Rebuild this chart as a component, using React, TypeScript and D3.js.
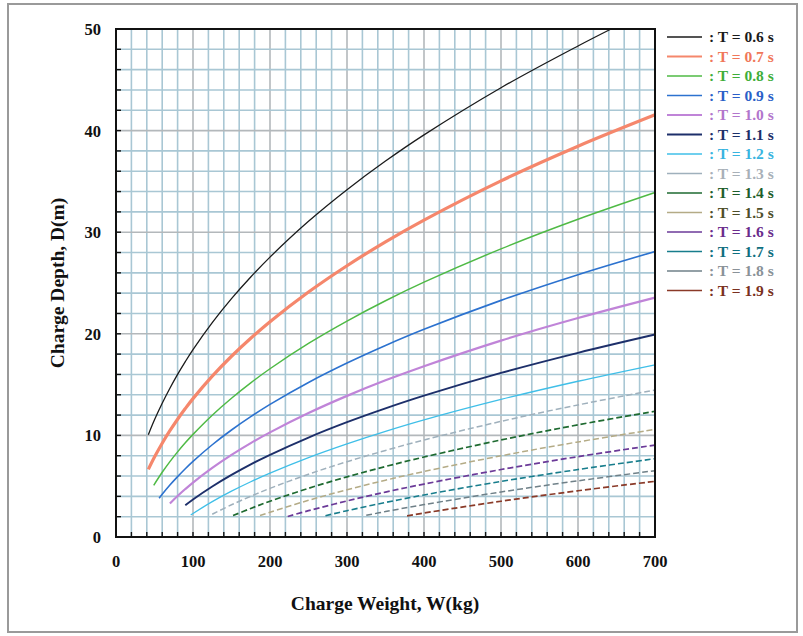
import React from "react";
import * as d3 from "d3";

// Charge depth D(m) for each bubble period T, as [W(kg), D(m)] pairs
const T06: [number, number][] = [[42, 10.07], [50, 11.53], [60, 13.16], [70, 14.64], [80, 16.0], [90, 17.26], [100, 18.44], [125, 21.1], [150, 23.46], [175, 25.59], [200, 27.55], [250, 31.07], [300, 34.18], [350, 37.0], [400, 39.58], [500, 44.22], [600, 48.33], [643, 50.0]];
const T07: [number, number][] = [[42, 6.66], [50, 7.87], [60, 9.23], [70, 10.46], [80, 11.59], [90, 12.64], [100, 13.62], [125, 15.83], [150, 17.79], [175, 19.56], [200, 21.19], [250, 24.11], [300, 26.7], [350, 29.05], [400, 31.19], [500, 35.05], [600, 38.46], [700, 41.55]];
const T08: [number, number][] = [[49, 5.09], [60, 6.37], [70, 7.42], [80, 8.38], [90, 9.27], [100, 10.1], [125, 11.99], [150, 13.66], [175, 15.17], [200, 16.56], [250, 19.05], [300, 21.25], [350, 23.25], [400, 25.08], [500, 28.36], [600, 31.27], [700, 33.9]];
const T09: [number, number][] = [[56, 3.81], [60, 4.2], [70, 5.11], [80, 5.94], [90, 6.72], [100, 7.44], [125, 9.08], [150, 10.53], [175, 11.84], [200, 13.05], [250, 15.21], [300, 17.12], [350, 18.85], [400, 20.44], [500, 23.29], [600, 25.82], [700, 28.1]];
const T10: [number, number][] = [[70, 3.3], [80, 4.04], [90, 4.72], [100, 5.36], [125, 6.8], [150, 8.08], [175, 9.24], [200, 10.3], [250, 12.2], [300, 13.89], [350, 15.42], [400, 16.81], [500, 19.33], [600, 21.55], [700, 23.56]];
const T11: [number, number][] = [[90, 3.12], [100, 3.69], [125, 4.97], [150, 6.11], [175, 7.15], [200, 8.09], [250, 9.79], [300, 11.3], [350, 12.66], [400, 13.91], [500, 16.15], [600, 18.13], [700, 19.93]];
const T12: [number, number][] = [[97, 2.17], [125, 3.48], [150, 4.51], [175, 5.44], [200, 6.29], [250, 7.82], [300, 9.17], [350, 10.4], [400, 11.53], [500, 13.54], [600, 15.33], [700, 16.95]];
const T13: [number, number][] = [[125, 2.24], [150, 3.17], [175, 4.01], [200, 4.79], [250, 6.18], [300, 7.41], [350, 8.52], [400, 9.55], [500, 11.38], [600, 13.0], [700, 14.47]];
const T14: [number, number][] = [[152, 2.11], [175, 2.81], [200, 3.52], [250, 4.79], [300, 5.92], [350, 6.94], [400, 7.87], [500, 9.55], [600, 11.04], [700, 12.38]];
const T15: [number, number][] = [[187, 2.11], [200, 2.44], [250, 3.61], [300, 4.65], [350, 5.59], [400, 6.45], [500, 7.99], [600, 9.36], [700, 10.59]];
const T16: [number, number][] = [[223, 2.02], [250, 2.59], [300, 3.55], [350, 4.42], [400, 5.21], [500, 6.64], [600, 7.91], [700, 9.05]];
const T17: [number, number][] = [[272, 2.1], [300, 2.59], [350, 3.4], [400, 4.14], [500, 5.47], [600, 6.64], [700, 7.71]];
const T18: [number, number][] = [[325, 2.13], [350, 2.5], [400, 3.19], [500, 4.43], [600, 5.53], [700, 6.53]];
const T19: [number, number][] = [[378, 2.08], [400, 2.36], [500, 3.52], [600, 4.55], [700, 5.48]];

const LABELS = ["0.6", "0.7", "0.8", "0.9", "1.0", "1.1", "1.2", "1.3", "1.4", "1.5", "1.6", "1.7", "1.8", "1.9"];
const X_TICKS = [0, 100, 200, 300, 400, 500, 600, 700];
const Y_TICKS = [0, 10, 20, 30, 40, 50];

const SERIES = [T06, T07, T08, T09, T10, T11, T12, T13, T14, T15, T16, T17, T18, T19];
const STYLES = [
  { stroke: "#1b1b1b", width: 1.3, dash: "", text: "#1b1b1b" },
  { stroke: "#f5876c", width: 3.2, dash: "", text: "#f0775a" },
  { stroke: "#4fba45", width: 1.5, dash: "", text: "#3fae3a" },
  { stroke: "#2c72cf", width: 1.6, dash: "", text: "#2b5fc8" },
  { stroke: "#c084d8", width: 2.2, dash: "", text: "#b276cc" },
  { stroke: "#1d2f6a", width: 1.9, dash: "", text: "#1d2f6a" },
  { stroke: "#3fbfe8", width: 1.3, dash: "", text: "#38b4e0" },
  { stroke: "#9fb0bc", width: 1.5, dash: "6,3", text: "#a8b0b8" },
  { stroke: "#1e6a30", width: 1.7, dash: "6,3", text: "#1e5e2c" },
  { stroke: "#b4ab86", width: 1.5, dash: "6,3", text: "#4e4e2a" },
  { stroke: "#6b3a98", width: 1.7, dash: "6,3", text: "#6a2c8c" },
  { stroke: "#177d8c", width: 1.6, dash: "6,3", text: "#0f6f80" },
  { stroke: "#6f8088", width: 1.5, dash: "6,3", text: "#8a9298" },
  { stroke: "#8a3a28", width: 1.7, dash: "6,3", text: "#7a3020" },
];

const W = 803;
const H = 636;
const M = { left: 116, right: 655, top: 29, bottom: 537 };

export default function App() {
  const x = d3.scaleLinear().domain([0, 700]).range([M.left, M.right]);
  const y = d3.scaleLinear().domain([0, 50]).range([M.bottom, M.top]);
  const line = d3.line<[number, number]>()
    .x(d => x(d[0]))
    .y(d => y(d[1]))
    .curve(d3.curveCatmullRom);

  const xGrid = d3.range(20, 700, 20);
  const yGrid = d3.range(2, 50, 2);
  const font = "'Liberation Serif', 'Times New Roman', serif";

  return (
    <svg width={W} height={H} style={{ position: "absolute", left: 0, top: 0, background: "#fff" }} fontFamily={font}>
      <rect x={8} y={4} width={789} height={628} fill="#fff" stroke="#9a9a9a" strokeWidth={2} />

      {/* grid */}
      <g>
        {xGrid.map(v => (
          <line key={"gx" + v} x1={x(v)} x2={x(v)} y1={M.top} y2={M.bottom}
            stroke={v % 100 === 0 ? "#b3b8bb" : "#a9c7d4"} strokeWidth={1.6} />
        ))}
        {yGrid.map(v => (
          <line key={"gy" + v} x1={M.left} x2={M.right} y1={y(v)} y2={y(v)}
            stroke={v % 10 === 0 ? "#b3b8bb" : "#a9c7d4"} strokeWidth={1.6} />
        ))}
      </g>

      {/* inward ticks */}
      <g stroke="#111" strokeWidth={1.4}>
        {d3.range(20, 700, 20).map(v => (
          <line key={"tx" + v} x1={x(v)} x2={x(v)} y1={M.bottom} y2={M.bottom - 5} />
        ))}
        {d3.range(2, 50, 2).map(v => (
          <line key={"ty" + v} x1={M.left} x2={M.left + 5} y1={y(v)} y2={y(v)} />
        ))}
      </g>

      {/* curves */}
      <g fill="none">
        {SERIES.map((s, i) => (
          <path key={"c" + i} d={line(s) || ""} stroke={STYLES[i].stroke}
            strokeWidth={STYLES[i].width} strokeDasharray={STYLES[i].dash || undefined} />
        ))}
      </g>

      <rect x={M.left} y={M.top} width={M.right - M.left} height={M.bottom - M.top}
        fill="none" stroke="#111" strokeWidth={2} />

      {/* axis labels */}
      <g fontWeight="bold" fontSize={16.5} fill="#111">
        {X_TICKS.map(v => (
          <text key={"lx" + v} x={x(v)} y={567} textAnchor="middle">{v}</text>
        ))}
        {Y_TICKS.map(v => (
          <text key={"ly" + v} x={101} y={y(v) + 6} textAnchor="end">{v}</text>
        ))}
      </g>
      <text x={385} y={610} textAnchor="middle" fontWeight="bold" fontSize={19.5} fill="#111">
        Charge Weight, W(kg)
      </text>
      <text transform={`translate(64,${(M.top + M.bottom) / 2}) rotate(-90)`} textAnchor="middle"
        fontWeight="bold" fontSize={19.5} fill="#111">
        Charge Depth, D(m)
      </text>

      {/* legend */}
      <g fontWeight="bold" fontSize={15.5}>
        {LABELS.map((t, i) => {
          const ly = 37 + i * 19.5;
          return (
            <g key={"lg" + i}>
              <line x1={667} x2={702} y1={ly} y2={ly} stroke={STYLES[i].stroke}
                strokeWidth={Math.min(STYLES[i].width, 2.2)} />
              <text x={709} y={ly + 5} fill={STYLES[i].text}>{`: T = ${t} s`}</text>
            </g>
          );
        })}
      </g>
    </svg>
  );
}
